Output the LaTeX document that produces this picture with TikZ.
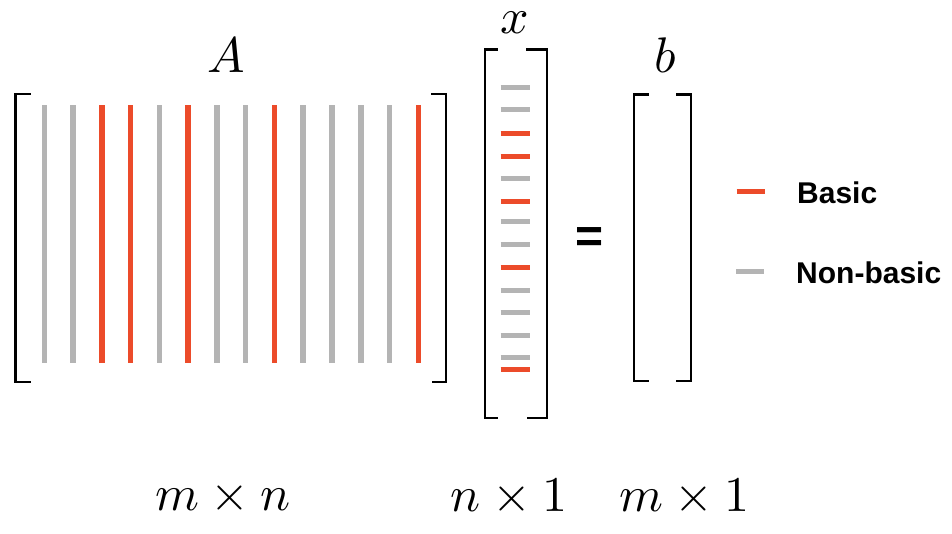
\documentclass[tikz,border=0pt]{standalone}
\usepackage{fontspec}
\newfontfamily\legfont{Liberation Sans}
\definecolor{basicred}{HTML}{EC4B2A}
\definecolor{nbgray}{HTML}{B4B4B4}
\begin{document}
\begin{tikzpicture}[x=1pt,y=-1pt,
  brk/.style={line width=2.6pt,line cap=rect,black},
  colline/.style={line width=5.5pt},
  xdash/.style={line width=5pt},
  mathlbl/.style={inner sep=0pt,anchor=base,scale=5},
  leglbl/.style={inner sep=0pt,anchor=base west,font=\legfont\bfseries\fontsize{30}{36}\selectfont}]
\useasboundingbox (0,0) rectangle (952,533);
% matrix A brackets
\draw[brk] (30,94) -- (15.5,94) -- (15.5,382) -- (30,382);
\draw[brk] (432,94) -- (446,94) -- (446,382) -- (433,382);
% columns of A
\foreach \i/\c in {0/nbgray,1/nbgray,2/basicred,3/basicred,4/nbgray,5/basicred,6/nbgray,7/nbgray,8/basicred,9/nbgray,10/nbgray,11/nbgray,12/nbgray,13/basicred}{
  \draw[colline,\c] ({44.3+\i*28.77},105) -- ({44.3+\i*28.77},363);
}
% vector x brackets
\draw[brk] (497,49.5) -- (485,49.5) -- (485,418) -- (497,418);
\draw[brk] (527,49.5) -- (547,49.5) -- (547,418) -- (528,418);
% entries of x
\foreach \y/\c in {87.3/nbgray,109.7/nbgray,133/basicred,156/basicred,178.7/nbgray,201.7/basicred,221.3/nbgray,244/nbgray,267/basicred,290/nbgray,312.7/nbgray,335.7/nbgray,357/nbgray,369.7/basicred}{
  \draw[xdash,\c] (500.5,\y) -- (529.5,\y);
}
% vector b brackets
\draw[brk] (648,94.5) -- (634,94.5) -- (634,381) -- (648,381);
\draw[brk] (677,94.5) -- (691,94.5) -- (691,381) -- (677,381);
% labels
\node[mathlbl] (lA) at (226,72) {$A$};
\node[mathlbl] (lx) at (515,33) {$x$};
\node[mathlbl] (lb) at (665,72) {$b$};
\node[mathlbl] (dA) at (223,510) {$m\times n$};
\node[mathlbl] (dx) at (509,511) {$n\times 1$};
\node[mathlbl] (db) at (684,511) {$m\times 1$};
\node[inner sep=0pt,anchor=base,font=\legfont\bfseries\fontsize{48}{56}\selectfont] (eq) at (589.5,252) {=};
% legend
\draw[xdash,line width=5.5pt,basicred] (736.5,191.7) -- (765,191.7);
\draw[xdash,line width=5.5pt,nbgray] (736,271.7) -- (764,271.7);
\node[leglbl] (lbasic) at (797,203.3) {Basic};
\node[leglbl] (lnon) at (796,283.3) {Non-basic};
\end{tikzpicture}
\end{document}
